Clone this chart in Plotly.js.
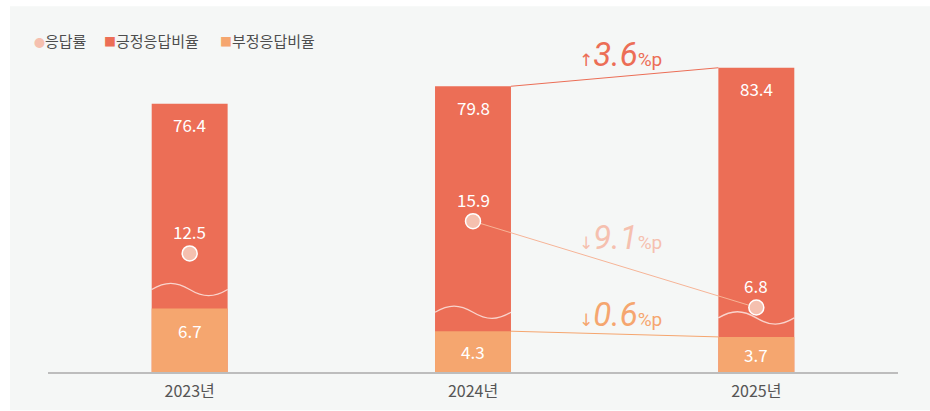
<!DOCTYPE html>
<html>
<head>
<meta charset="utf-8">
<script src="https://cdn.plot.ly/plotly-3.0.1.min.js"></script>
<style>
  html, body { margin: 0; padding: 0; background: #ffffff; }
  #chart { width: 930px; height: 411px; }
</style>
</head>
<body>
<div id="chart"></div>
<script>
// values
var years = ['2023년', '2024년', '2025년'];
var responseRate = [12.5, 15.9, 6.8];   // 응답률
var positive = [76.4, 79.8, 83.4];      // 긍정응답비율
var negative = [6.7, 4.3, 3.7];         // 부정응답비율

var RED = '#ec6e56', ORANGE = '#f5a66f', PINK = '#f5c0af', PINK_LINE = '#f6b497';
var FONT = '"Noto Sans CJK KR", "Noto Sans", sans-serif';
var xs = years.map(function (d, i) { return i; });
var hw = 0.134;  // half bar width

// broken axis: red bars on their own (compressed) scale, orange bars + points on the lower scale
var lowRange = [0, 35];
var topRange = [24.2, 88.8];
var plotH = 332;
var pxPerLow = plotH / (lowRange[1] - lowRange[0]);

var data = [
  { type: 'bar', x: xs, y: positive, yaxis: 'y', width: 2 * hw,
    marker: { color: RED }, name: '긍정응답비율', showlegend: false, hoverinfo: 'y' },
  { type: 'scatter', mode: 'lines', yaxis: 'y',
    x: [1 + hw, 2 - hw], y: [positive[1], positive[2]],
    line: { color: RED, width: 1 }, showlegend: false, hoverinfo: 'skip' },
  { type: 'bar', x: xs, y: negative, yaxis: 'y2', width: 2 * hw,
    marker: { color: ORANGE }, name: '부정응답비율', showlegend: false, hoverinfo: 'y' },
  { type: 'scatter', mode: 'lines', yaxis: 'y2',
    x: [1 + hw, 2 - hw], y: [negative[1], negative[2]],
    line: { color: ORANGE, width: 1 }, showlegend: false, hoverinfo: 'skip' },
  { type: 'scatter', mode: 'lines', yaxis: 'y2',
    x: [1, 2], y: [responseRate[1], responseRate[2]],
    line: { color: PINK_LINE, width: 1 }, showlegend: false, hoverinfo: 'skip' },
  { type: 'scatter', mode: 'markers', x: xs, y: responseRate, yaxis: 'y2',
    marker: { size: 15, color: PINK, line: { color: '#ffffff', width: 1.5 } },
    name: '응답률', showlegend: false, hoverinfo: 'y' }
];

var annotations = [];
xs.forEach(function (x, i) {
  annotations.push({ x: x, y: positive[i], xref: 'x', yref: 'y', yshift: -21,
    text: positive[i].toFixed(1), showarrow: false,
    font: { family: FONT, size: 17, color: '#ffffff' } });
  annotations.push({ x: x, y: negative[i], xref: 'x', yref: 'y2',
    yshift: -Math.min(22, negative[i] * pxPerLow / 2),
    text: negative[i].toFixed(1), showarrow: false,
    font: { family: FONT, size: 17, color: '#ffffff' } });
  annotations.push({ x: x, y: responseRate[i], xref: 'x', yref: 'y2', yshift: 22,
    text: responseRate[i].toFixed(1), showarrow: false,
    font: { family: FONT, size: 17, color: '#ffffff' } });
});

// change labels
function delta(a, b, color, y) {
  var d = b - a;
  var arrow = d >= 0 ? '↑' : '↓';
  annotations.push({ x: 1.52, y: y, xref: 'x', yref: 'paper', yanchor: 'middle', showarrow: false,
    text: '<span style="font-family:\'DejaVu Sans\';font-size:17px">' + arrow + '</span><i>' +
          Math.abs(d).toFixed(1) + '</i><span style="font-size:19px">%p</span>',
    font: { family: 'Roboto, sans-serif', size: 33, color: color } });
}
delta(positive[1], positive[2], RED, 0.955);
delta(responseRate[1], responseRate[2], PINK, 0.404);
delta(negative[1], negative[2], ORANGE, 0.172);

// legend made of annotations
var legendItems = [
  { x: -0.0185, sym: '●', size: 11, color: PINK, label: '응답률' },
  { x: 0.0635, sym: '■', size: 12, color: RED, label: '긍정응답비율' },
  { x: 0.2000, sym: '■', size: 12, color: ORANGE, label: '부정응답비율' }
];
legendItems.forEach(function (it) {
  annotations.push({ x: it.x, y: 1.0, xref: 'paper', yref: 'paper', xanchor: 'left', yanchor: 'middle',
    showarrow: false,
    text: '<span style="color:' + it.color + ';font-size:' + it.size + 'px">' + it.sym + '</span>' + it.label,
    font: { family: FONT, size: 15, color: '#4d4d4d' } });
});

// wavy break marks on the red bars
var shapes = [{
  type: 'rect', xref: 'paper', yref: 'paper', layer: 'below',
  x0: -0.0447, x1: 1.04, y0: -0.115, y1: 1.102,
  fillcolor: '#f5f7f6', line: { width: 0 }
}];
xs.forEach(function (x, i) {
  var m = negative[i] + 2.0, a = 0.65, x0 = x - hw, h = hw;
  var c = a * 4 / 3;
  var p = 'M ' + x0 + ',' + m +
    ' C ' + (x0 + h * 0.36) + ',' + (m + c) + ' ' + (x0 + h * 0.64) + ',' + (m + c) + ' ' + (x0 + h) + ',' + m +
    ' C ' + (x0 + h * 1.36) + ',' + (m - c) + ' ' + (x0 + h * 1.64) + ',' + (m - c) + ' ' + (x0 + 2 * h) + ',' + m;
  shapes.push({ type: 'path', xref: 'x', yref: 'y2', path: p, layer: 'above',
    line: { color: 'rgba(255,255,255,0.7)', width: 1.3 } });
});

var layout = {
  width: 930, height: 411,
  margin: { l: 48, r: 32, t: 40, b: 39 },
  paper_bgcolor: '#ffffff',
  plot_bgcolor: 'rgba(0,0,0,0)',
  barmode: 'overlay',
  showlegend: false,
  font: { family: FONT },
  xaxis: { range: [-0.5, 2.5], tickvals: xs, ticktext: years, showgrid: false, zeroline: false,
    showline: true, linecolor: '#bdbdbd', linewidth: 1.5, ticks: '', ticklabelstandoff: 4,
    tickfont: { family: FONT, size: 16, color: '#555555' }, fixedrange: true },
  yaxis: { range: topRange, visible: false, fixedrange: true },
  yaxis2: { range: lowRange, overlaying: 'y', visible: false, fixedrange: true },
  shapes: shapes,
  annotations: annotations
};

Plotly.newPlot('chart', data, layout, { displayModeBar: false, staticPlot: true });
</script>
</body>
</html>
